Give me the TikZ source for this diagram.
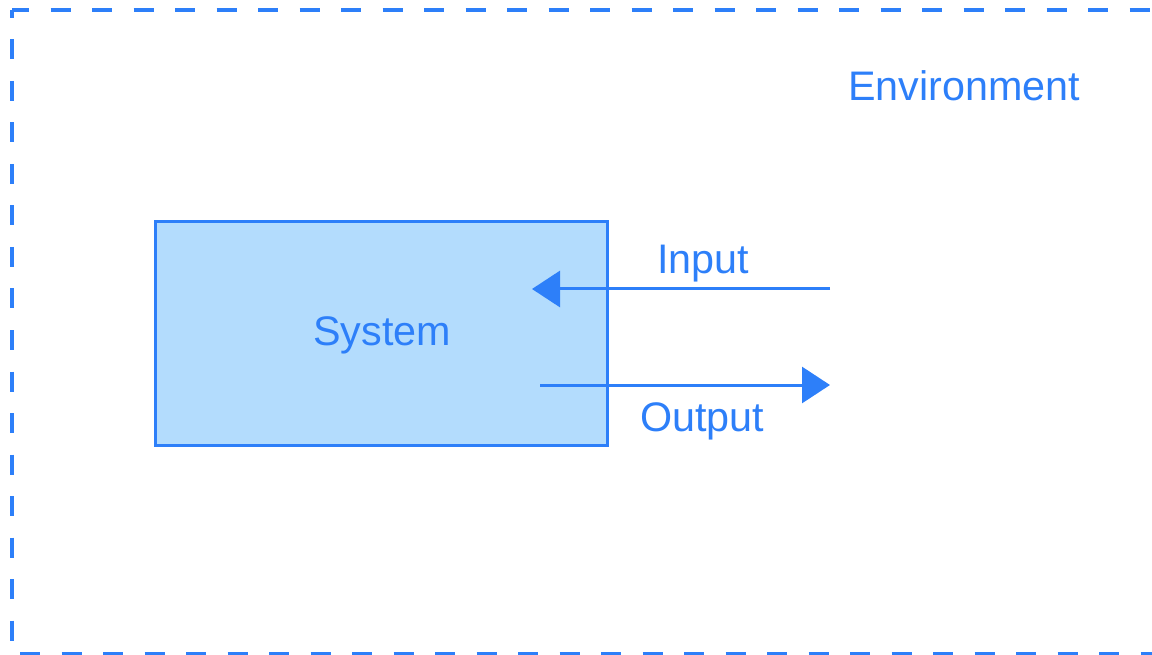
\documentclass[tikz,border=0pt]{standalone}
\usepackage{fontspec}
\setmainfont{Liberation Sans}
\usetikzlibrary{arrows.meta}
\definecolor{sysblue}{RGB}{45,127,249}
\definecolor{sysfill}{RGB}{179,220,253}
\begin{document}
\begin{tikzpicture}[x=1pt,y=-1pt,
  lbl/.style={text=sysblue, font=\fontsize{41.3}{48}\selectfont, inner sep=0pt},
  envline/.style={draw=sysblue, line width=3.3pt},
  conn/.style={draw=sysblue, line width=3pt, -{Triangle[length=28pt,width=36pt]}},
  sysbox/.style={draw=sysblue, fill=sysfill, line width=3pt, minimum width=452pt, minimum height=223pt, inner sep=0pt}]
\useasboundingbox (0,0) rectangle (1152,655);
\clip (0,0) rectangle (1152,655);
% environment border
\draw[envline, dash pattern=on 20pt off 21.5pt, dash phase=3pt] (12,10) -- (1180,10);
\draw[envline, dash pattern=on 20pt off 21.5pt, dash phase=12pt] (12,10) -- (12,660);
\draw[envline, dash pattern=on 20pt off 21.5pt, dash phase=33.5pt] (12,654) -- (1180,654);
\node[lbl, anchor=base west] (env) at (848,101) {Environment};
% system
\node[sysbox] (sys) at (381,333.5) {};
\node[lbl, anchor=base west] (syslabel) at (313,345) {System};
% connectors
\coordinate (inS) at (830,289);
\coordinate (inT) at (532,289);
\coordinate (outS) at (540,385);
\coordinate (outT) at (830,385);
\draw[conn] (inS) -- (inT);
\draw[conn] (outS) -- (outT);
\node[lbl, anchor=base west] (inlabel) at (657,273) {Input};
\node[lbl, anchor=base west] (outlabel) at (640,431) {Output};
\end{tikzpicture}
\end{document}
